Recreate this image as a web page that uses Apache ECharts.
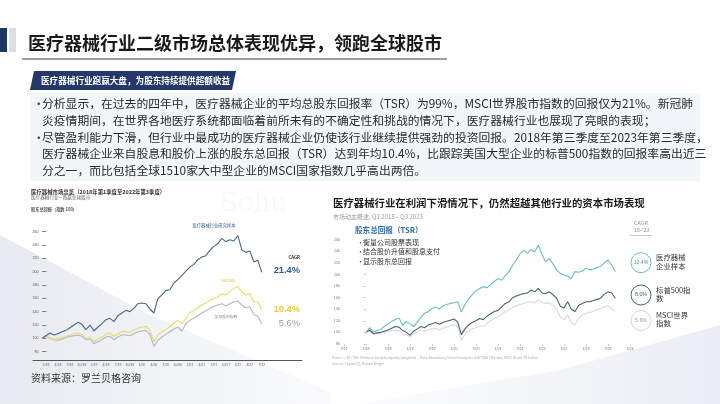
<!DOCTYPE html>
<html><head><meta charset="utf-8">
<script src="https://cdn.jsdelivr.net/npm/echarts@6/dist/echarts.min.js"></script>
<style>html,body{margin:0;padding:0;background:#fff}#c{width:720px;height:404px}</style>
</head><body><div id="c"></div>
<script>
// ---------- data ----------
const titleText = '医疗器械行业二级市场总体表现优异，领跑全球股市';
const bannerText = '医疗器械行业跑赢大盘，为股东持续提供超额收益';
const bulletLines = [
  '分析显示，在过去的四年中，医疗器械企业的平均总股东回报率（TSR）为99%，MSCI世界股市指数的回报仅为21%。新冠肺',
  '炎疫情期间，在世界各地医疗系统都面临着前所未有的不确定性和挑战的情况下，医疗器械行业也展现了亮眼的表现；',
  '尽管盈利能力下滑，但行业中最成功的医疗器械企业仍使该行业继续提供强劲的投资回报。2018年第三季度至2023年第三季度，',
  '医疗器械企业来自股息和股价上涨的股东总回报（TSR）达到年均10.4%，比跟踪美国大型企业的标普500指数的回报率高出近三',
  '分之一，而比包括全球1510家大中型企业的MSCI国家指数几乎高出两倍。'
];
const bulletStarts = [true, false, true, false, false];

// left chart (months from Jan 2018, first value = Dec 2017)
const leftXLabels = ['1/18','4/18','7/18','10/18','1/19','4/19','7/19','10/19','1/20','4/20','7/20','10/20','1/21','4/21','7/21','10/21','1/22','4/22','7/22'];
const leftYTicks = [80,100,120,140,160,180,200,220,240,260];
const leftMedtech = [100,104,108,105,107,110,112,116,120,124,121,113,120,111,117,122,128,130,125,134,138,142,140,145,152,153,152,144,138,160,165,172,173,183,188,194,201,207,211,218,222,224,232,238,242,250,245,248,246,254,233,229,231,215,217,199];
const leftSP500 = [100,104,101,98,100,101,103,105,107,108,106,100,102,95,99,102,106,108,103,107,110,110,109,112,115,117,118,112,95,105,110,113,118,123,127,122,130,138,142,146,150,153,157,160,162,167,165,170,175,178,170,165,167,155,155,143];
const leftWorld = [100,103,100,98,97,99,101,103,104,105,103,98,99,92,95,98,102,103,98,102,105,105,104,107,110,111,112,106,88,97,102,106,110,114,117,111,122,127,130,134,138,141,145,148,150,152,149,152,155,156,150,146,147,136,133,122];
const leftCagr = ['21.4%','10.4%','5.6%'];

// right chart (months from Jan 2018)
const rightXLabels = ['7/17','1/18','7/18','1/19','7/19','1/20','7/20','1/21','7/21','1/22','7/22','1/23','7/23','1/24'];
const rightYTicks = [80,100,120,140,160,180,200,220,240,260];
const rightMedtech = [100,108,101,103,105,110,115,119,122,125,112,119,115,110,118,126,133,136,141,144,140,146,148,150,151,153,135,148,158,165,172,176,179,177,183,188,193,190,198,205,216,225,236,242,237,243,239,251,234,222,228,218,208,202,199,197,193,205,204,206,211,208,209,212,214,220,225,216,205];
const rightSP500 = [100,104,98,99,100,102,104,107,110,109,103,100,95,102,106,110,108,113,115,117,114,117,119,121,123,118,96,106,113,117,120,124,122,128,132,136,138,144,150,153,160,163,165,167,168,173,170,176,168,167,170,165,159,145,142,153,140,136,147,150,153,153,155,157,159,166,170,168,159];
const rightWorld = [100,103,96,97,98,100,101,103,104,103,97,96,92,98,101,104,102,105,106,107,104,107,109,111,113,110,87,96,102,106,108,111,110,116,120,124,127,131,136,139,143,146,148,150,152,153,151,156,152,150,151,147,140,126,122,130,116,113,124,130,133,134,137,139,141,144,146,141,136];
const rightCagr = ['10.4%','8.0%','5.6%'];
const rightNames = ['医疗器械\n企业样本','标普500指\n数','MSCI世界\n指数'];
const rightBullets = ['衡量公司股票表现','结合股价升值和股息支付','显示股东总回报'];

// ---------- helpers ----------
const FF = '"Noto Sans CJK SC","Noto Sans",sans-serif';
const FL = '"Liberation Sans",Arial,sans-serif';
function T(x, y, text, size, fill, o) {
  o = o || {};
  return {type:'text', x:x, y:y, z:100, silent:true, style:{
    text:text, fontSize:size, fill:fill, fontFamily:o.f||FF, fontWeight:o.w||'normal',
    align:o.a||'left', verticalAlign:'middle', textAlign:o.a||'left', textVerticalAlign:'middle',
    lineHeight:o.lh||size*1.2
  }};
}
const G = [];
// background shading
G.push({type:'polygon', z:-10, silent:true, shape:{points:[[0,235],[150,315],[330,392],[330,404],[0,404]]},
  style:{fill:{type:'linear',x:0,y:0,x2:1,y2:0,colorStops:[{offset:0,color:'rgba(226,230,237,0.85)'},{offset:1,color:'rgba(238,240,245,0.35)'}]}}});
G.push({type:'polygon', z:-10, silent:true, shape:{points:[[360,404],[560,370],[720,325],[720,404]]},
  style:{fill:{type:'linear',x:0,y:0,x2:1,y2:0,colorStops:[{offset:0,color:'rgba(240,242,247,0.3)'},{offset:1,color:'rgba(228,232,240,0.8)'}]}}});
G.push(T(220, 204, 'Sohu', 26, 'rgba(120,130,150,0.06)', {f:'"DejaVu Serif",serif'}));
// header
G.push({type:'rect', z:50, shape:{x:0,y:28,width:7,height:24}, style:{fill:'#1f3864'}});
G.push({type:'rect', z:50, shape:{x:9,y:28,width:7,height:24}, style:{fill:'#dcdfe4'}});
G.push(T(28, 43, titleText, 18, '#1a1a1a', {w:'bold'}));
G.push({type:'line', z:50, shape:{x1:22,y1:59,x2:447,y2:59}, style:{stroke:'#7b7f88', lineWidth:1.5}});
G.push({type:'polygon', z:50, shape:{points:[[34,71],[236,71],[232,90],[30,90]]}, style:{fill:'#24396a'}});
G.push(T(41, 80.5, bannerText, 8.6, '#ffffff', {w:'bold'}));
G.push({type:'rect', z:40, shape:{x:30,y:93,width:670,height:88}, style:{fill:'#f2f5fa'}});
const lineYs = [104, 120.7, 137.3, 154, 170.5];
bulletLines.forEach(function(t, i){
  if (bulletStarts[i]) G.push(T(33, lineYs[i], '•', 11.5, '#444'));
  G.push(T(42, lineYs[i], t, 11.8, '#2a2a2a'));
});
// left chart texts
G.push(T(31, 191.5, '医疗器械市场总览（2018年第1季度至2022年第3季度）', 5.4, '#333', {w:'bold'}));
G.push(T(31, 197.5, '医疗器械行业—跑赢全球股市', 4.6, '#666'));
G.push(T(31, 209, '股东总回报（指数 100）', 4.2, '#555', {w:'bold'}));
G.push(T(214, 225.5, '医疗器械行业研究样本', 4.3, '#3a5a80', {a:'center'}));
G.push(T(300, 257, 'CAGR', 4.3, '#333', {a:'right', w:'bold'}));
G.push(T(300, 270.7, leftCagr[0], 9.3, '#2e5d8c', {a:'right', w:'bold', f:FL}));
G.push(T(228, 280.7, 'S&P 500', 3.8, '#d9c23a', {a:'center'}));
G.push(T(300, 309, leftCagr[1], 9.3, '#e5c83b', {a:'right', w:'bold', f:FL}));
G.push(T(226, 316.7, '全球股市指数', 3.8, '#888', {a:'center'}));
G.push(T(300, 323, leftCagr[2], 9.3, '#9c9c9c', {a:'right', f:FL}));
G.push(T(31, 378, '资料来源：罗兰贝格咨询', 10, '#333'));
// right chart texts
G.push(T(333, 203.5, '医疗器械行业在利润下滑情况下，仍然超越其他行业的资本市场表现', 10.4, '#1a1a1a', {w:'bold'}));
G.push(T(333, 216.5, '市场动态概述, Q1 2018 – Q3 2023', 6, '#9a9a9a'));
G.push(T(355, 230, '股东总回报（TSR）', 7.6, '#2f6ea6', {w:'bold'}));
[242, 251.5, 261].forEach(function(y, i){
  G.push(T(357, y, '•', 7, '#333'));
  G.push(T(363, y, rightBullets[i], 7, '#333'));
});
G.push(T(641, 222.7, 'CAGR', 5.4, '#999', {a:'center'}));
G.push(T(641, 230, "'18-'23", 5.4, '#999', {a:'center'}));
G.push({type:'line', z:50, shape:{x1:630,y1:235.5,x2:652,y2:235.5}, style:{stroke:'#bbb', lineWidth:0.8}});
const circ = [[262.7,'#6cbcbd','#4a9c9d'],[295,'#4a6373','#4a6373'],[320.5,'#d6d6d6','#999']];
circ.forEach(function(c, i){
  G.push({type:'circle', z:60, shape:{cx:641, cy:c[0], r:10}, style:{fill:'#fff', stroke:c[1], lineWidth:1}});
  G.push(T(641, c[0], rightCagr[i], 5.2, c[2], {a:'center', f:FL}));
  G.push(T(656, c[0]-1, rightNames[i], 7.4, '#333', {lh:8.2}));
});
G.push(T(332, 358, 'Note: n = 91 (TSR: Medtech Sample, equally weighted) – Data: Bloomberg Market Analytics (S&P 500 TR Index, MSCI World TR Index)', 3.4, '#aaa'));
G.push(T(332, 363.5, 'Source: Capital IQ; Roland Berger', 3.4, '#aaa'));

// ---------- chart ----------
const chart = echarts.init(document.getElementById('c'));
const lineS = function(data, color, gi, w){
  return {type:'line', xAxisIndex:gi, yAxisIndex:gi, data:data, showSymbol:false, symbol:'none', silent:true,
    lineStyle:{color:color, width:w||1.1}, z:5};
};
chart.setOption({
  backgroundColor:'#ffffff',
  animation:false,
  grid:[
    {left:33, right:418, top:231.7, bottom:44},
    {left:344, right:90, top:239.8, bottom:60.1}
  ],
  xAxis:[
    {gridIndex:0, type:'value', min:-3.25, max:64.06,
      axisLine:{show:true, lineStyle:{color:'#555', width:1}}, axisTick:{show:false}, splitLine:{show:false},
      axisLabel:{customValues:leftXLabels.map(function(_, i){return i*3;}), fontSize:3.5, color:'#666', margin:3,
        formatter:function(v){return leftXLabels[Math.round(v/3)] || '';}}},
    {gridIndex:1, type:'value', min:-6, max:72, interval:6,
      axisLine:{show:false}, axisTick:{show:true, length:2, lineStyle:{color:'#aaa', width:0.6}}, splitLine:{show:false},
      axisLabel:{fontSize:3.7, color:'#777', margin:3,
        formatter:function(v){return rightXLabels[Math.round((v+6)/6)] || '';}}}
  ],
  yAxis:[
    {gridIndex:0, type:'value', min:67.5, max:260, offset:-13.4,
      axisLine:{show:false}, splitLine:{show:false},
      axisTick:{show:true, customValues:leftYTicks, length:4.4, lineStyle:{color:'#666', width:0.8}},
      axisLabel:{customValues:leftYTicks, fontSize:3.7, color:'#555', margin:7.8}},
    {gridIndex:1, type:'value', min:80, max:260, interval:20,
      axisLine:{show:false}, splitLine:{show:false},
      axisTick:{show:true, length:2.5, lineStyle:{color:'#aaa', width:0.6}},
      axisLabel:{fontSize:3.7, color:'#777', margin:4}}
  ],
  series:[
    lineS(leftWorld.map(function(v,i){return [i-1, v];}), '#b6b5c6', 0),
    lineS(leftSP500.map(function(v,i){return [i-1, v];}), '#e9db6c', 0),
    lineS(leftMedtech.map(function(v,i){return [i-1, v];}), '#4a6585', 0),
    lineS(rightWorld.map(function(v,i){return [i, v];}), '#dadada', 1),
    lineS(rightSP500.map(function(v,i){return [i, v];}), '#4a6373', 1),
    lineS(rightMedtech.map(function(v,i){return [i, v];}), '#6cbcbd', 1)
  ],
  graphic:{elements:G}
});
</script></body></html>
